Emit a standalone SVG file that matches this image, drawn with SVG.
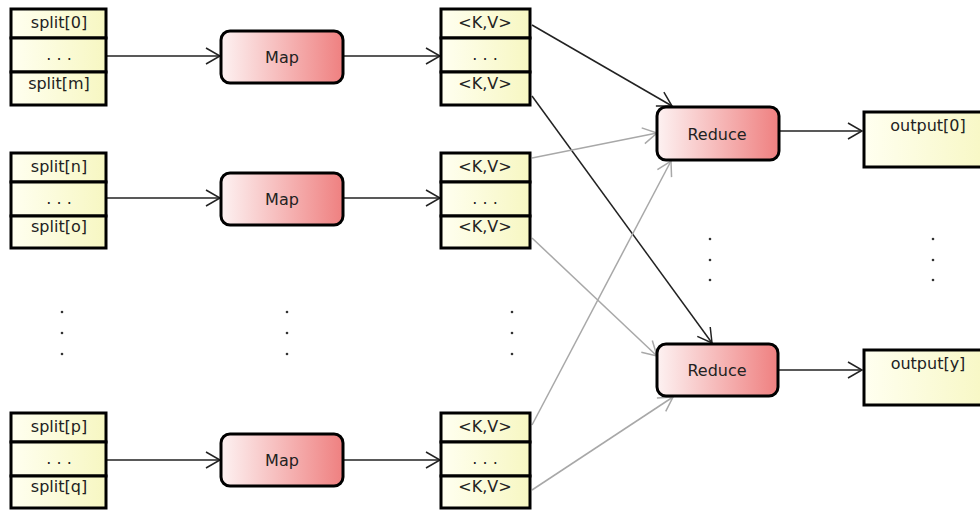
<svg xmlns="http://www.w3.org/2000/svg" width="980" height="511" viewBox="0 0 980 511">
<defs>
<linearGradient id="gy" x1="0" y1="0" x2="1" y2="0">
<stop offset="0" stop-color="#fffff0"/>
<stop offset="1" stop-color="#f7f7c2"/>
</linearGradient>
<linearGradient id="gr" x1="0" y1="0" x2="1" y2="0">
<stop offset="0" stop-color="#fdf2f2"/>
<stop offset="1" stop-color="#ef8080"/>
</linearGradient>
<marker id="ad" markerUnits="userSpaceOnUse" markerWidth="20" markerHeight="22" refX="15" refY="9" orient="auto">
<path d="M1,1 L15,9 L1,17" fill="none" stroke="#222" stroke-width="1.5"/>
</marker>
<marker id="ag" markerUnits="userSpaceOnUse" markerWidth="20" markerHeight="22" refX="15" refY="9" orient="auto">
<path d="M1,1 L15,9 L1,17" fill="none" stroke="#a8a8a8" stroke-width="1.5"/>
</marker>
</defs>
<style>
.cell{fill:url(#gy);stroke:#000;stroke-width:3}
.proc{fill:url(#gr);stroke:#000;stroke-width:3}
text{font-family:"DejaVu Sans","Liberation Sans",sans-serif;font-size:16px;fill:#222;text-anchor:middle}
.dk{stroke:#222;stroke-width:1.5;fill:none;marker-end:url(#ad)}
.gy{stroke:#a8a8a8;stroke-width:1.5;fill:none;marker-end:url(#ag)}
.dot{fill:#333}
</style>

<g id="connectors">
<line class="dk" x1="107" y1="56" x2="220" y2="56"/>
<line class="dk" x1="343" y1="56" x2="440" y2="56"/>
<line class="dk" x1="107" y1="198" x2="220" y2="198"/>
<line class="dk" x1="343" y1="198" x2="440" y2="198"/>
<line class="dk" x1="107" y1="460" x2="220" y2="460"/>
<line class="dk" x1="343" y1="460" x2="440" y2="460"/>
<line class="dk" x1="532" y1="25" x2="672" y2="106"/>
<line class="dk" x1="532" y1="96" x2="712" y2="343"/>
<line class="gy" x1="532" y1="158" x2="657" y2="133"/>
<line class="gy" x1="532" y1="238" x2="657" y2="356"/>
<line class="gy" x1="532" y1="425" x2="671" y2="161"/>
<line class="gy" x1="532" y1="490" x2="673" y2="397"/>
<line class="dk" x1="779" y1="131" x2="862" y2="131"/>
<line class="dk" x1="778" y1="370" x2="862" y2="370"/>
</g>

<g id="splits1">
<rect class="cell" x="11" y="9" width="95" height="29"/>
<rect class="cell" x="11" y="38" width="95" height="34"/>
<rect class="cell" x="11" y="72" width="95" height="33"/>
<text x="59" y="28">split[0]</text>
<text x="59" y="60">. . .</text>
<text x="59" y="89">split[m]</text>
</g>
<g id="splits2">
<rect class="cell" x="11" y="153" width="95" height="29"/>
<rect class="cell" x="11" y="182" width="95" height="34"/>
<rect class="cell" x="11" y="216" width="95" height="32"/>
<text x="59" y="172">split[n]</text>
<text x="59" y="204">. . .</text>
<text x="59" y="232">split[o]</text>
</g>
<g id="splits3">
<rect class="cell" x="11" y="413" width="95" height="29"/>
<rect class="cell" x="11" y="442" width="95" height="34"/>
<rect class="cell" x="11" y="476" width="95" height="32"/>
<text x="59" y="432">split[p]</text>
<text x="59" y="464">. . .</text>
<text x="59" y="492">split[q]</text>
</g>

<g id="map1">
<rect class="proc" x="221" y="31" width="122" height="52" rx="9"/>
<text x="282" y="63">Map</text>
</g>
<g id="map2">
<rect class="proc" x="221" y="173" width="122" height="52" rx="9"/>
<text x="282" y="205">Map</text>
</g>
<g id="map3">
<rect class="proc" x="221" y="434" width="122" height="52" rx="9"/>
<text x="282" y="466">Map</text>
</g>

<g id="kv1">
<rect class="cell" x="441" y="9" width="89" height="29"/>
<rect class="cell" x="441" y="38" width="89" height="34"/>
<rect class="cell" x="441" y="72" width="89" height="33"/>
<text x="485" y="28">&lt;K,V&gt;</text>
<text x="485" y="60">. . .</text>
<text x="485" y="89">&lt;K,V&gt;</text>
</g>
<g id="kv2">
<rect class="cell" x="441" y="153" width="89" height="29"/>
<rect class="cell" x="441" y="182" width="89" height="34"/>
<rect class="cell" x="441" y="216" width="89" height="32"/>
<text x="485" y="172">&lt;K,V&gt;</text>
<text x="485" y="204">. . .</text>
<text x="485" y="232">&lt;K,V&gt;</text>
</g>
<g id="kv3">
<rect class="cell" x="441" y="413" width="89" height="29"/>
<rect class="cell" x="441" y="442" width="89" height="34"/>
<rect class="cell" x="441" y="476" width="89" height="32"/>
<text x="485" y="432">&lt;K,V&gt;</text>
<text x="485" y="464">. . .</text>
<text x="485" y="492">&lt;K,V&gt;</text>
</g>

<g id="reduce1">
<rect class="proc" x="657" y="107" width="122" height="53" rx="9"/>
<text x="717" y="140">Reduce</text>
</g>
<g id="reduce2">
<rect class="proc" x="657" y="344" width="121" height="52" rx="9"/>
<text x="717" y="376">Reduce</text>
</g>

<g id="output0">
<rect class="cell" x="864" y="112" width="130" height="55"/>
<text x="928" y="131">output[0]</text>
</g>
<g id="outputy">
<rect class="cell" x="864" y="350" width="130" height="55"/>
<text x="928" y="369">output[y]</text>
</g>

<g id="ellipses">
<circle class="dot" cx="62" cy="312" r="1.3"/>
<circle class="dot" cx="62" cy="333" r="1.3"/>
<circle class="dot" cx="62" cy="354" r="1.3"/>
<circle class="dot" cx="287" cy="312" r="1.3"/>
<circle class="dot" cx="287" cy="333" r="1.3"/>
<circle class="dot" cx="287" cy="354" r="1.3"/>
<circle class="dot" cx="512" cy="312" r="1.3"/>
<circle class="dot" cx="512" cy="333" r="1.3"/>
<circle class="dot" cx="512" cy="354" r="1.3"/>
<circle class="dot" cx="710" cy="239" r="1.3"/>
<circle class="dot" cx="710" cy="260" r="1.3"/>
<circle class="dot" cx="710" cy="280" r="1.3"/>
<circle class="dot" cx="933" cy="239" r="1.3"/>
<circle class="dot" cx="933" cy="260" r="1.3"/>
<circle class="dot" cx="933" cy="280" r="1.3"/>
</g>
</svg>
